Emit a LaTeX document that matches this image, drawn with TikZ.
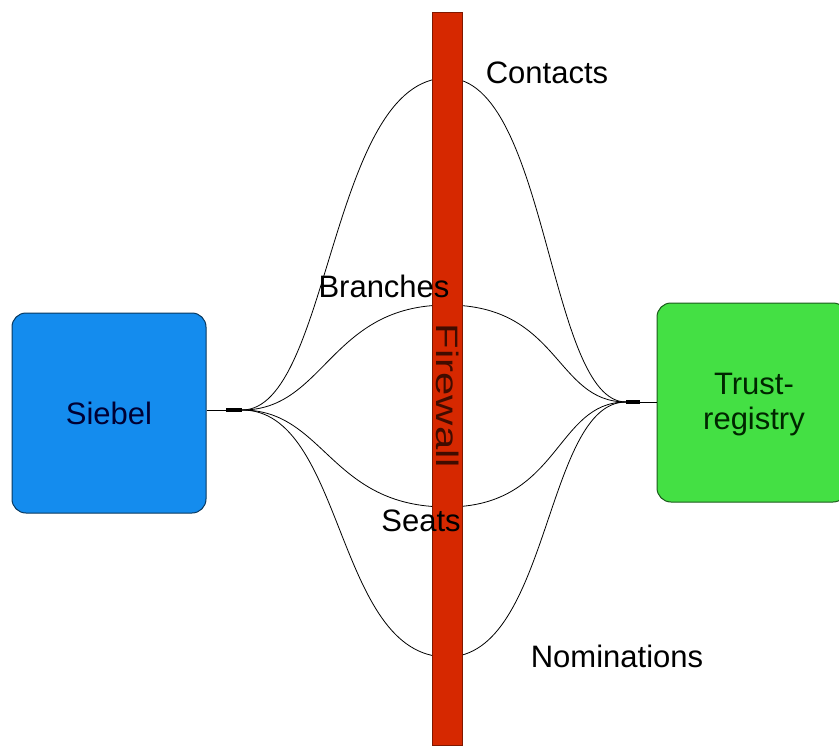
\documentclass[tikz,border=0pt]{standalone}
\usepackage{fontspec}
\setmainfont{Liberation Sans}
\begin{document}
\begin{tikzpicture}[x=1pt,y=-1pt,
  box/.style={draw=#1!40!black,line width=1pt,rounded corners=14pt,inner sep=0pt,font=\fontsize{31}{35}\selectfont,align=center},
  lbl/.style={font=\fontsize{31}{35}\selectfont,inner sep=0pt},
  link/.style={line width=0.8pt,black}]
\useasboundingbox (0,0) rectangle (839,747);
\definecolor{sblue}{RGB}{20,140,238}
\definecolor{tgreen}{RGB}{68,224,68}
\definecolor{fred}{RGB}{214,40,0}
% boxes
\node[box=sblue,fill=sblue,minimum width=194pt,minimum height=200pt,text=black!80!blue] (siebel) at (109,413) {Siebel};
\node[box=tgreen,fill=tgreen,minimum width=190pt,minimum height=199pt] (trust) at (752,402.5) {};
\node[lbl,text=black!85!green,align=center] (trusttext) at (754,405) {Trust-\\registry};
% hubs
\coordinate (hubL) at (242,410);
\coordinate (hubR) at (626,402);
\coordinate (pC) at (447,78);
\coordinate (pB) at (447,305);
\coordinate (pS) at (447,507);
\coordinate (pN) at (447,657);
\draw[link] (siebel.east |- hubL) -- (hubL);
\draw[link,line width=4.5pt] (226,410) -- (hubL);
\draw[link] (hubR) -- (trust.west |- hubR);
\draw[link,line width=4.5pt] (hubR) -- (640,402);
% curves
\draw[link] (hubL) .. controls (330,410) and (330,78) .. (pC) .. controls (548,78) and (548,402) .. (hubR);
\draw[link] (hubL) .. controls (325,410) and (330,305) .. (pB) .. controls (560,305) and (555,402) .. (hubR);
\draw[link] (hubL) .. controls (325,410) and (330,507) .. (pS) .. controls (560,507) and (555,402) .. (hubR);
\draw[link] (hubL) .. controls (345,410) and (335,657) .. (pN) .. controls (550,657) and (545,402) .. (hubR);
% firewall
\node[draw=fred!60!black,fill=fred,line width=1pt,minimum width=30pt,minimum height=733pt,inner sep=0pt] (fw) at (447.5,378.5) {};
\node[lbl,rotate=-90,text=black!70!fred] (fwtext) at (448,396) {\scalebox{1.35}[1]{Firewall}};
% labels
\node[lbl] (contacts) at (547,73) {Contacts};
\node[lbl] (branches) at (384,286) {Branches};
\node[lbl] (seats) at (421,521) {Seats};
\node[lbl] (nominations) at (617,656) {Nominations};
\end{tikzpicture}
\end{document}
